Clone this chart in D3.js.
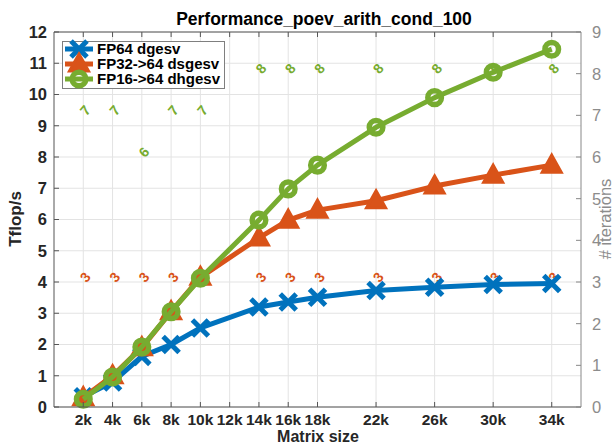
<!DOCTYPE html>
<html><head><meta charset="utf-8">
<script src="https://cdn.jsdelivr.net/npm/d3@7"></script>
<style>
body{margin:0;background:#fff;}
text{font-family:"Liberation Sans",Arial,Helvetica,sans-serif;}
</style></head>
<body><svg id="c" width="613" height="445"></svg>
<script>
const sizes = [2000,4000,6000,8000,10000,14000,16000,18000,22000,26000,30000,34000];
const xTicks = [2000,4000,6000,8000,10000,12000,14000,16000,18000,22000,26000,30000,34000];
const xTickLabels = ["2k","4k","6k","8k","10k","12k","14k","16k","18k","22k","26k","30k","34k"];
const fp64 = [0.33,0.80,1.62,2.00,2.53,3.20,3.36,3.51,3.73,3.83,3.92,3.95];
const fp32 = [0.30,1.00,1.90,3.05,4.15,5.41,5.98,6.30,6.60,7.07,7.42,7.74];
const fp16 = [0.25,0.96,1.92,3.05,4.12,5.98,6.98,7.74,8.95,9.90,10.71,11.45];
const iter32 = [3,3,3,3,3,3,3,3,3,3,3,3];
const iter16 = [7,7,6,7,7,8,8,8,8,8,8,8];
const leftTicks = [0,1,2,3,4,5,6,7,8,9,10,11,12];
const rightTicks = [0,1,2,3,4,5,6,7,8,9];
const names = ["FP64 dgesv","FP32->64 dsgesv","FP16->64 dhgesv"];
const colors = ["#0072BD","#D95319","#77AC30"];

const svg = d3.select("#c");
const L=54,R=581,T=32,B=407;
const x = d3.scaleLinear().domain([0,36000]).range([L,R]);
const yL = d3.scaleLinear().domain([0,12]).range([B,T]);
const yR = d3.scaleLinear().domain([0,9]).range([B,T]);

// grid
const g = svg.append("g");
g.selectAll("line.vg").data(xTicks).join("line")
 .attr("x1",d=>x(d)).attr("x2",d=>x(d)).attr("y1",T).attr("y2",B)
 .attr("stroke","#e3e3e3").attr("stroke-width",1);
g.selectAll("line.hg").data(leftTicks).join("line")
 .attr("y1",d=>yL(d)).attr("y2",d=>yL(d)).attr("x1",L).attr("x2",R)
 .attr("stroke","#e3e3e3").attr("stroke-width",1);

// iteration annotations
const ann = svg.append("g").attr("font-size",14).attr("font-weight","bold");
sizes.forEach((s,i)=>{
  ann.append("text").attr("transform",`translate(${x(s)+2},${yR(iter32[i])-5}) rotate(-50)`)
   .attr("text-anchor","middle").attr("dominant-baseline","central").attr("fill",colors[1]).text(iter32[i]);
  ann.append("text").attr("transform",`translate(${x(s)+2},${yR(iter16[i])-5}) rotate(-50)`)
   .attr("text-anchor","middle").attr("dominant-baseline","central").attr("fill",colors[2]).text(iter16[i]);
});

// markers
function drawMarker(sel, type, color){
  if(type===0){
    sel.append("path").attr("d","M-8,-8L8,8M-8,8L8,-8").attr("stroke",color).attr("stroke-width",5).attr("fill","none");
  } else if(type===1){
    sel.append("path").attr("d","M0,-10L9.5,7L-9.5,7Z").attr("stroke",color).attr("stroke-width",3).attr("stroke-linejoin","miter").attr("fill",color);
  } else {
    sel.append("circle").attr("r",6.8).attr("stroke",color).attr("stroke-width",5.5).attr("fill","none");
  }
}
const series=[fp64,fp32,fp16];
const line = d3.line().x((d,i)=>x(sizes[i])).y(d=>yL(d));
series.forEach((vals,k)=>{
  svg.append("path").datum(vals).attr("d",line).attr("fill","none").attr("stroke",colors[k]).attr("stroke-width",5).attr("stroke-linejoin","round");
  vals.forEach((v,i)=>{
    const m = svg.append("g").attr("transform",`translate(${x(sizes[i])},${yL(v)})`);
    drawMarker(m,k,colors[k]);
  });
});

// axes box
const ax = svg.append("g");
ax.append("line").attr("x1",L).attr("x2",R).attr("y1",T).attr("y2",T).attr("stroke","#555");
ax.append("line").attr("x1",L).attr("x2",R).attr("y1",B).attr("y2",B).attr("stroke","#555");
ax.append("line").attr("x1",L).attr("x2",L).attr("y1",T).attr("y2",B).attr("stroke","#555");
ax.append("line").attr("x1",R).attr("x2",R).attr("y1",T).attr("y2",B).attr("stroke","#888");
// x ticks
xTicks.forEach((t,i)=>{
  ax.append("line").attr("x1",x(t)).attr("x2",x(t)).attr("y1",B).attr("y2",B-5).attr("stroke","#555");
  ax.append("line").attr("x1",x(t)).attr("x2",x(t)).attr("y1",T).attr("y2",T+5).attr("stroke","#555");
  ax.append("text").attr("x",x(t)).attr("y",B+18).attr("text-anchor","middle").attr("font-size",15.5).attr("font-weight","bold").attr("fill","#262626").text(xTickLabels[i]);
});
leftTicks.forEach(t=>{
  ax.append("line").attr("x1",L).attr("x2",L+5).attr("y1",yL(t)).attr("y2",yL(t)).attr("stroke","#555");
  ax.append("text").attr("x",L-7).attr("y",yL(t)).attr("dy","0.36em").attr("text-anchor","end").attr("font-size",16.5).attr("font-weight","bold").attr("fill","#262626").text(t);
});
rightTicks.forEach(t=>{
  ax.append("line").attr("x1",R).attr("x2",R-5).attr("y1",yR(t)).attr("y2",yR(t)).attr("stroke","#888");
  ax.append("text").attr("x",R+11).attr("y",yR(t)).attr("dy","0.36em").attr("text-anchor","start").attr("font-size",16.5).attr("fill","#8c8c8c").text(t);
});

// labels
svg.append("text").attr("x",324).attr("y",25).attr("text-anchor","middle").attr("font-size",17.5).attr("font-weight","bold").attr("fill","#000").text("Performance_poev_arith_cond_100");
svg.append("text").attr("x",318).attr("y",442).attr("text-anchor","middle").attr("font-size",16).attr("font-weight","bold").attr("fill","#262626").text("Matrix size");
svg.append("text").attr("transform","translate(21,219) rotate(-90)").attr("text-anchor","middle").attr("font-size",17).attr("font-weight","bold").attr("fill","#262626").text("Tflop/s");
svg.append("text").attr("transform","translate(611,219) rotate(-90)").attr("text-anchor","middle").attr("font-size",16.5).attr("fill","#8c8c8c").text("# iterations");

// legend
const lg = svg.append("g");
lg.append("rect").attr("x",62.5).attr("y",41.5).attr("width",162).attr("height",47).attr("fill","#fff").attr("stroke","#7f7f7f");
names.forEach((n,k)=>{
  const yy = 49+15*k;
  lg.append("line").attr("x1",65).attr("x2",93).attr("y1",yy).attr("y2",yy).attr("stroke",colors[k]).attr("stroke-width",5);
  const m = lg.append("g").attr("transform",`translate(79,${yy})`);
  drawMarker(m,k,colors[k]);
  lg.append("text").attr("x",97).attr("y",yy).attr("dy","0.36em").attr("font-size",15).attr("font-weight","bold").attr("fill","#000").text(n);
});
</script></body></html>
